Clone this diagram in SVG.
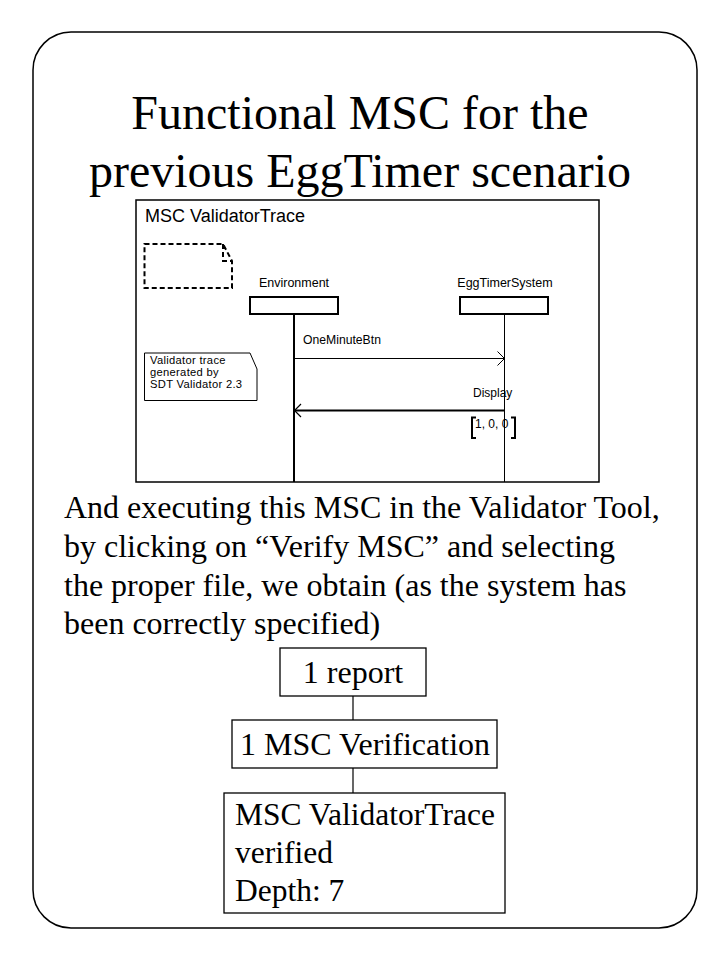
<svg xmlns="http://www.w3.org/2000/svg" width="720" height="960" viewBox="0 0 720 960">
<style>
.serif{font-family:"Liberation Serif","Times New Roman",serif;fill:#000}
.sans{font-family:"Liberation Sans",Arial,sans-serif;fill:#000}
.box{fill:#fff;stroke:#000;stroke-width:1.3}
.ln{stroke:#000;fill:none}
</style>
<rect width="720" height="960" fill="#fff"/>
<rect x="33" y="32" width="664" height="896" rx="38" ry="38" fill="none" stroke="#000" stroke-width="1.5"/>
<g id="title">
<text class="serif" x="360" y="129" font-size="48" text-anchor="middle">Functional MSC for the</text>
<text class="serif" x="360" y="187" font-size="48" text-anchor="middle">previous EggTimer scenario</text>
</g>
<g id="msc">
<rect x="136" y="200" width="463" height="282" fill="#fff" stroke="#000" stroke-width="1.5"/>
<text class="sans" x="145" y="222" font-size="18">MSC ValidatorTrace</text>
<path class="ln" d="M144.5,244 H223 L232,261 V288 H144.5 Z M223,244 V261 H232" stroke-width="2" stroke-dasharray="5,3"/>
<g id="env">
<text class="sans" x="294" y="287" font-size="12.5" text-anchor="middle">Environment</text>
<rect x="250" y="297" width="88" height="17" fill="#fff" stroke="#000" stroke-width="2"/>
<line class="ln" x1="294" y1="314" x2="294" y2="482" stroke-width="2"/>
</g>
<g id="egg">
<text class="sans" x="505" y="287" font-size="12.5" text-anchor="middle">EggTimerSystem</text>
<rect x="460" y="297" width="88" height="17" fill="#fff" stroke="#000" stroke-width="2"/>
<line class="ln" x1="504.5" y1="314" x2="504.5" y2="482" stroke-width="1"/>
</g>
<g id="note">
<path d="M144.5,353 H250 L257,369 V400.5 H144.5 Z" fill="#fff" stroke="#000" stroke-width="1"/>
<text class="sans" font-size="11.2" letter-spacing="0.3" x="150"><tspan x="150" y="364">Validator trace</tspan><tspan x="150" y="376">generated by</tspan><tspan x="150" y="388">SDT Validator 2.3</tspan></text>
</g>
<g id="connectors">
<line class="ln" x1="294" y1="358.5" x2="504" y2="358.5" stroke-width="1"/>
<path class="ln" d="M497.5,351.5 L504.5,358.5 L497.5,365.5" stroke-width="1"/>
<text class="sans" x="303" y="344" font-size="12.2">OneMinuteBtn</text>
<line class="ln" x1="504" y1="410.5" x2="295" y2="410.5" stroke-width="2"/>
<path class="ln" d="M301,404 L294.5,410.5 L301,417" stroke-width="1.2"/>
<text class="sans" x="473" y="397" font-size="12">Display</text>
<path class="ln" d="M476,417.5 H472 V438 H476 M511,417.5 H515 V438 H511" stroke-width="2"/>
<text class="sans" x="475" y="428" font-size="12">1, 0, 0</text>
</g>
</g>
<g id="para">
<text class="serif" font-size="32" x="64"><tspan x="64" y="518">And executing this MSC in the Validator Tool,</tspan><tspan x="64" y="557">by clicking on “Verify MSC” and selecting</tspan><tspan x="64" y="596">the proper file, we obtain (as the system has</tspan><tspan x="64" y="634">been correctly specified)</tspan></text>
</g>
<g id="tree-connectors">
<line class="ln" x1="353" y1="696" x2="353" y2="720" stroke-width="1.2"/>
<line class="ln" x1="353" y1="768" x2="353" y2="793" stroke-width="1.2"/>
</g>
<g id="report">
<rect class="box" x="280" y="648" width="146" height="48"/>
<text class="serif" x="353" y="683" font-size="32" text-anchor="middle">1 report</text>
</g>
<g id="verification">
<rect class="box" x="232" y="720" width="265" height="48"/>
<text class="serif" x="365" y="755" font-size="32" text-anchor="middle">1 MSC Verification</text>
</g>
<g id="result">
<rect class="box" x="224" y="793" width="281" height="120"/>
<text class="serif" font-size="31.5" x="235"><tspan x="235" y="825">MSC ValidatorTrace</tspan><tspan x="235" y="863">verified</tspan><tspan x="235" y="901">Depth: 7</tspan></text>
</g>
</svg>
